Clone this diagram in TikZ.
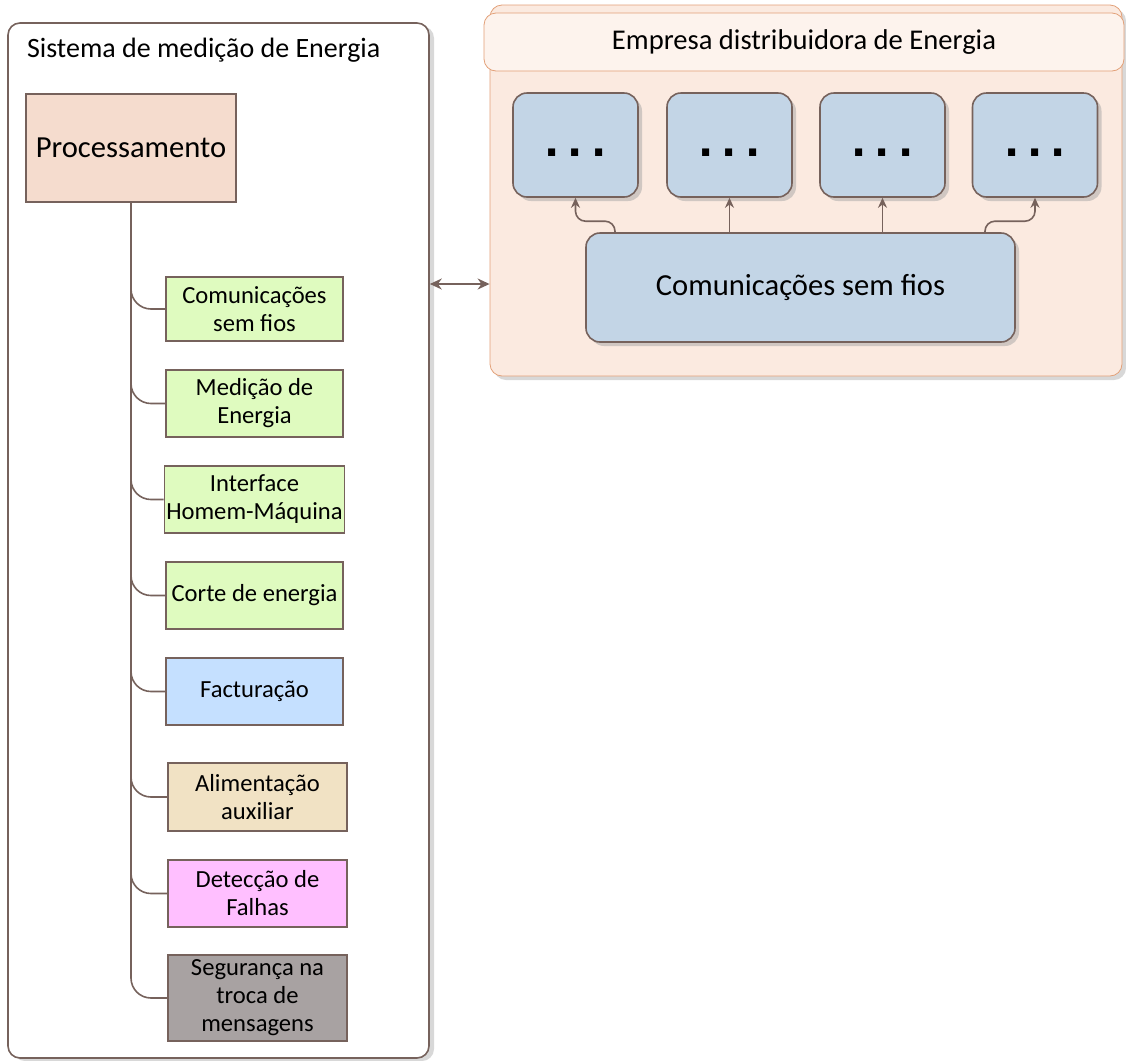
\documentclass[tikz,border=0pt]{standalone}
\usepackage{fontspec}
\setmainfont{Carlito}
\newfontfamily\pontofont{DejaVu Sans}
\usetikzlibrary{arrows.meta,shadows}

\definecolor{linha}{RGB}{118,98,92}
\definecolor{pessego}{RGB}{245,220,206}
\definecolor{verde}{RGB}{223,251,191}
\definecolor{azulfact}{RGB}{197,224,255}
\definecolor{bege}{RGB}{241,226,196}
\definecolor{rosa}{RGB}{255,191,255}
\definecolor{cinza}{RGB}{168,162,162}
\definecolor{azulcx}{RGB}{195,213,230}
\definecolor{salmao}{RGB}{251,234,224}
\definecolor{salmaoclaro}{RGB}{253,243,237}
\definecolor{laranja}{RGB}{226,160,120}

\newcommand{\tresPontos}{\raisebox{-5.5pt}[0pt][0pt]{\pontofont\bfseries\fontsize{20}{20}\selectfont .\hspace{4pt}.\hspace{4pt}.}}

\begin{document}
\begin{tikzpicture}[x=0.5pt,y=-0.5pt,
  bloco/.style={draw=linha, thick, minimum width=88.5pt, minimum height=33.5pt, align=center, inner sep=1pt, font=\fontsize{12.3}{14}\selectfont},
  caixa/.style={draw=linha, thick, rounded corners=7pt, fill=azulcx, drop shadow={shadow xshift=2pt, shadow yshift=-2pt, fill=black!35}},
  liga/.style={draw=linha, thick, rounded corners=10pt},
  seta/.style={draw=linha, thick, -{Stealth[length=5pt,width=4.5pt]}}]
\useasboundingbox (0,0) rectangle (1126,1061);

% sistema de medicao
\node[draw=linha, thick, fill=white, rounded corners=6pt, minimum width=210.5pt, minimum height=517.5pt,
  drop shadow={shadow xshift=2.5pt, shadow yshift=-1.5pt, fill=black!30}] (sistema) at (218.5,540.5) {};
\node[anchor=west, font=\fontsize{14}{16}\selectfont] (tsistema) at (20,50) {Sistema de medição de Energia};
\node[draw=linha, thick, fill=pessego, minimum width=105pt, minimum height=54pt, font=\fontsize{15.3}{18}\selectfont] (proc) at (131,148) {Processamento};

\node[bloco, fill=verde, minimum height=32pt] (com) at (254.5,309) {Comunicações\\sem fios};
\node[bloco, fill=verde] (med) at (254.5,403.5) {Medição de\\Energia};
\node[bloco, fill=verde] (ihm) at (254.5,499.5) {Interface\\Homem-Máquina};
\node[bloco, fill=verde] (corte) at (254.5,595.5) {Corte de energia};
\node[bloco, fill=azulfact] (fact) at (254.5,691.5) {Facturação};
\node[bloco, fill=bege, minimum width=89.5pt, minimum height=34pt] (alim) at (257.5,797) {Alimentação\\auxiliar};
\node[bloco, fill=rosa, minimum width=89.5pt] (falhas) at (257.5,893.5) {Detecção de\\Falhas};
\node[bloco, fill=cinza, minimum width=89.5pt, minimum height=43pt] (seg) at (257.5,998) {Segurança na\\troca de\\mensagens};

\foreach \n in {com,med,ihm,corte,fact,alim,falhas,seg}
  \draw[liga] (proc.south) |- (\n.west);

% empresa distribuidora
\node[draw=laranja, fill=salmao, rounded corners=6pt, minimum width=316pt, minimum height=185.5pt,
  drop shadow={shadow xshift=2pt, shadow yshift=-2pt, fill=black!30}] (empresa) at (806,190.5) {};
\node[draw=laranja, fill=salmaoclaro, rounded corners=6pt, minimum width=320pt, minimum height=29pt,
  font=\fontsize{14.3}{16}\selectfont] (tempresa) at (804,42) {Empresa distribuidora de Energia};

\foreach \i/\x in {1/575.5,2/729.5,3/882.5,4/1035}
  \node[caixa, minimum width=62.5pt, minimum height=52pt] (c\i) at (\x,145) {\tresPontos};
\node[caixa, minimum width=214.5pt, minimum height=54.5pt, font=\fontsize{15.3}{18}\selectfont] (csf) at (800.5,287.5) {Comunicações sem fios};

\coordinate (p1) at (615,0);
\coordinate (p4) at (985,0);
\draw[seta, rounded corners=5pt] (csf.north -| p1) -- ++(0,-11) -| (c1.south);
\draw[seta] (csf.north -| c2.south) -- (c2.south);
\draw[seta] (csf.north -| c3.south) -- (c3.south);
\draw[seta, rounded corners=5pt] (csf.north -| p4) -- ++(0,-11) -| (c4.south);

\coordinate (y1) at (0,284);
\draw[draw=linha, thick, {Stealth[length=6pt,width=5.5pt]}-{Stealth[length=6pt,width=5.5pt]}] (sistema.east |- y1) -- (empresa.west |- y1);
\end{tikzpicture}
\end{document}
